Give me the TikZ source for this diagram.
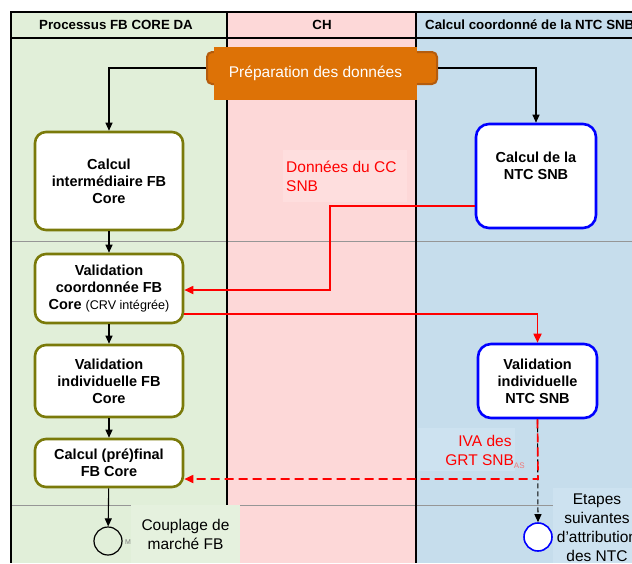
\documentclass[tikz,border=0pt]{standalone}
\usepackage{fontspec}
\setmainfont{Liberation Sans}
\usetikzlibrary{arrows.meta,calc}
\definecolor{lgreen}{RGB}{225,239,217}
\definecolor{lpink}{RGB}{253,216,216}
\definecolor{lblue}{RGB}{198,221,236}
\definecolor{lgreenbox}{RGB}{229,241,222}
\definecolor{lpinkbox}{RGB}{254,222,222}
\definecolor{lbluebox}{RGB}{205,226,240}
\definecolor{prepor}{RGB}{221,114,6}
\definecolor{prepdark}{RGB}{180,92,14}
\definecolor{olivebd}{RGB}{122,122,10}
\definecolor{greyline}{RGB}{150,150,150}
\definecolor{subred}{RGB}{240,120,120}
\begin{document}
\begin{tikzpicture}[x=1pt,y=-1pt,
  fbbox/.style={draw=olivebd,line width=2.6pt,fill=white,rounded corners=11pt,
    align=center,inner sep=2pt,font=\fontsize{14.5}{17}\selectfont\bfseries},
  ntcbox/.style={draw=blue,line width=2.6pt,fill=white,rounded corners=13pt,
    align=center,inner sep=2pt,font=\fontsize{14.5}{17}\selectfont\bfseries},
  conn/.style={draw=black,line width=1.1pt,-{Triangle[length=8pt,width=7pt]}},
  redconn/.style={draw=red,line width=1.7pt,-{Triangle[length=9pt,width=8pt]}},
  hdr/.style={font=\fontsize{13.3}{15}\selectfont\bfseries,inner sep=0pt},
  lbl/.style={font=\fontsize{15.5}{19}\selectfont,inner sep=0pt},
  lanefill/.style={draw=none},
  laneline/.style={draw=black,line width=2pt},
]
\useasboundingbox (0,0) rectangle (632,563);
% lanes
\path[lanefill,fill=lgreen] (11,12) rectangle (227,563);
\path[lanefill,fill=lpink] (227,12) rectangle (416,563);
\path[lanefill,fill=lblue] (416,12) rectangle (632,563);
% grey separators
\draw[greyline,line width=0.9pt] (11,241) -- (632,241);
\draw[greyline,line width=0.9pt] (11,505) -- (632,505);
% header lines
\draw[laneline] (10,12) -- (632,12);
\draw[black,line width=1.5pt] (11,38) -- (632,38);
\draw[laneline] (11,11) -- (11,563);
\draw[laneline] (227,12) -- (227,505);
\draw[laneline] (416,12) -- (416,563);
% headers
\node[hdr] (h1) at (116,25) {Processus FB CORE DA};
\node[hdr] (h2) at (322,25) {CH};
\node[hdr,anchor=west] (h3) at (425,25) {Calcul coordonné de la NTC SNB};

% label backgrounds
\node[fill=lpinkbox,minimum width=124pt,minimum height=52pt,inner sep=0pt] (dbg) at (345,176) {};
\node[lbl,text=red,align=left,anchor=north west] (dlab) at (286,161) {Données du CC\\SNB};
\node[fill=lbluebox,minimum width=97pt,minimum height=43pt,inner sep=0pt] (ibg) at (466.5,449.5) {};

% preparation
\node[draw=prepdark,fill=prepor,line width=2pt,rounded corners=5pt,minimum width=230pt,minimum height=32pt,inner sep=0pt] (prep) at (322,68) {};
\node[fill=prepor,minimum width=203pt,minimum height=53pt,inner sep=0pt,text=white,font=\fontsize{15.5}{18}\selectfont] (preptxt) at (315.5,73.5) {Préparation des données};

% FB boxes
\node[fbbox,minimum width=148pt,minimum height=98pt] (b1) at (109,181) {Calcul\\intermédiaire FB\\Core};
\node[fbbox,minimum width=148pt,minimum height=69pt] (b2) at (109,288.5) {Validation\\coordonnée FB\\Core {\fontsize{12.6}{17}\selectfont\mdseries (CRV intégrée)}};
\node[fbbox,minimum width=148pt,minimum height=72pt] (b3) at (109,381) {Validation\\individuelle FB\\Core};
\node[fbbox,minimum width=148pt,minimum height=48pt] (b4) at (109,463) {Calcul (pré)final\\FB Core};
\node[draw=black,line width=1.2pt,circle,minimum size=28pt,inner sep=0pt] (c1) at (108,541) {};
\node[text=gray,font=\fontsize{7}{8}\selectfont,inner sep=0pt] (mlab) at (128,542) {M};

% NTC boxes
\node[ntcbox,minimum width=120pt,minimum height=104pt] (ntc) at (536,176) {Calcul de la\\NTC SNB\\[3pt]};
\node[ntcbox,minimum width=119pt,minimum height=74pt] (vntc) at (537.5,381) {Validation\\individuelle\\NTC SNB};
\node[draw=blue,line width=1.6pt,fill=white,circle,minimum size=28pt,inner sep=0pt] (c2) at (538,537) {};

% bottom labels
\node[fill=lgreenbox,minimum width=109pt,minimum height=58pt,inner sep=0pt,anchor=north west] (cbg) at (131,505) {};
\node[lbl,align=center] (clab) at (185.5,534) {Couplage de\\marché FB};
\node[fill=lbluebox,minimum width=79pt,minimum height=75pt,inner sep=0pt,anchor=north west] (ebg) at (553,488) {};
\node[lbl,align=center,anchor=north] (elab) at (597,494) {Etapes\\suivantes\\d’attribution\\des NTC};

% IVA label
\node[lbl,text=red,align=center] (ilab) at (485,452) {IVA des\\GRT SNB{\fontsize{8}{8}\selectfont\raisebox{-3pt}{\textcolor{subred}{AS}}}};

% connectors
\draw[conn] (prep.west) -| (b1.north);
\draw[conn] (prep.east) -| (ntc.north);
\draw[conn] (b1) -- (b2);
\draw[conn] (b2) -- (b3);
\draw[conn] (b3) -- (b4);
\draw[conn] (b4) -- (c1);
\draw[conn,dashed,dash pattern=on 5pt off 3pt] (vntc.south) -- (c2.north);
\coordinate (rA) at (330,206);
\coordinate (rB) at (330,290);
\draw[redconn] (ntc.west |- rA) -- (rA) -- (rB) -- (b2.east |- rB);
\coordinate (rC) at (538,314);
\draw[redconn] (b2.east |- rC) -| (vntc.north);
\coordinate (rD) at (538,479);
\draw[redconn,dash pattern=on 9pt off 5pt] (vntc.south) -- (rD) -- (b4.east |- rD);
\end{tikzpicture}
\end{document}
